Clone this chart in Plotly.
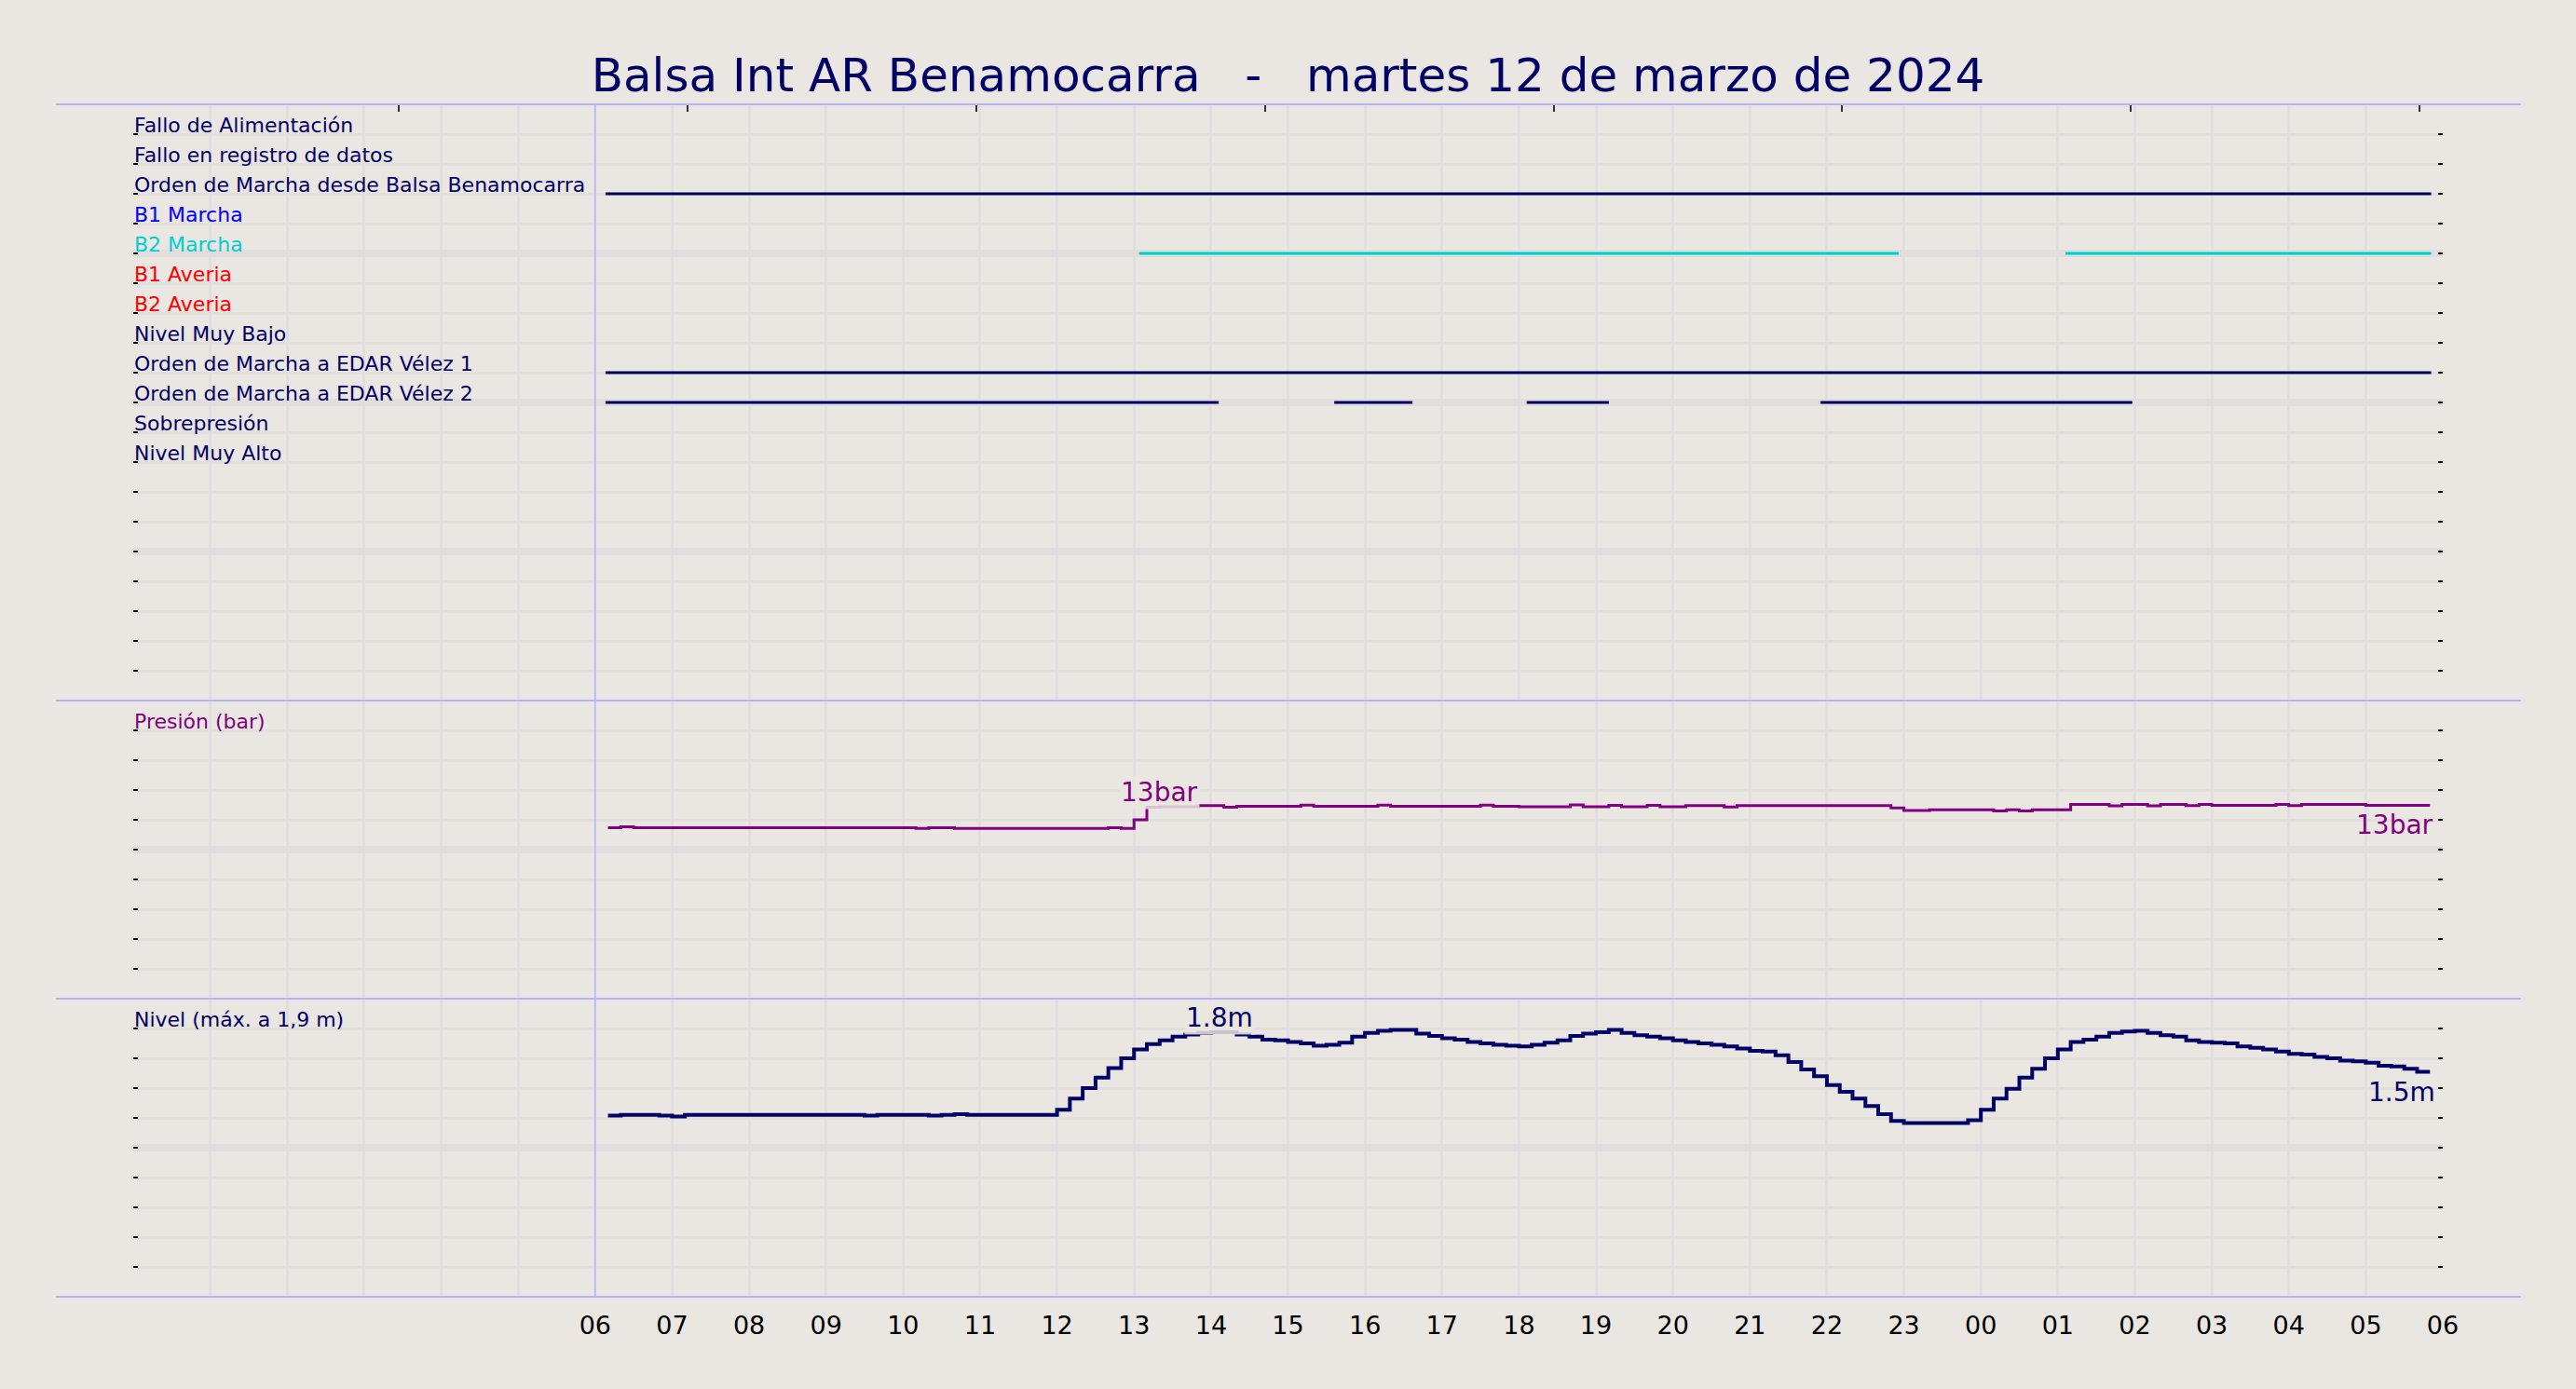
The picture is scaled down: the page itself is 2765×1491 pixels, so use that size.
# -*- coding: utf-8 -*-
import pandas as pd
import plotly.graph_objects as go
from plotly.subplots import make_subplots

# ---- data ------------------------------------------------------------------
X_START = "2024-03-12 00:00"
X_END = "2024-03-13 06:00"

SIGNAL_LABELS = [
    "Fallo de Alimentación",
    "Fallo en registro de datos",
    "Orden de Marcha desde Balsa Benamocarra",
    "B1 Marcha",
    "B2 Marcha",
    "B1 Averia",
    "B2 Averia",
    "Nivel Muy Bajo",
    "Orden de Marcha a EDAR Vélez 1",
    "Orden de Marcha a EDAR Vélez 2",
    "Sobrepresión",
    "Nivel Muy Alto",
]
SIGNAL_COLORS = [
    "#000066", "#000066", "#000066", "#0000ff", "#00ced1", "#ff0000",
    "#ff0000", "#000066", "#000066", "#000066", "#000066", "#000066",
]

# periodos activos (inicio, fin) de cada señal
SIGNAL_ON = {
    "Orden de Marcha desde Balsa Benamocarra": [
        ("2024-03-12 06:08", "2024-03-13 05:51")],
    "B2 Marcha": [
        ("2024-03-12 13:04", "2024-03-12 22:56"),
        ("2024-03-13 01:06", "2024-03-13 05:51")],
    "Orden de Marcha a EDAR Vélez 1": [
        ("2024-03-12 06:08", "2024-03-13 05:51")],
    "Orden de Marcha a EDAR Vélez 2": [
        ("2024-03-12 06:08", "2024-03-12 14:06"),
        ("2024-03-12 15:36", "2024-03-12 16:37"),
        ("2024-03-12 18:06", "2024-03-12 19:10"),
        ("2024-03-12 21:55", "2024-03-13 01:58")],
}

# registros cada 10 minutos, de 06:10 a 05:50
SAMPLE_TIMES = pd.date_range("2024-03-12 06:10", "2024-03-13 05:50", freq="10min")

PRESSURE = [
    11.47, 11.53, 11.47, 11.47, 11.47,                  # 06
    11.47, 11.47, 11.47, 11.47, 11.47, 11.47,           # 07
    11.47, 11.47, 11.47, 11.47, 11.47, 11.47,           # 08
    11.47, 11.47, 11.47, 11.47, 11.47, 11.47,           # 09
    11.47, 11.42, 11.47, 11.47, 11.42, 11.42,           # 10
    11.42, 11.42, 11.42, 11.42, 11.42, 11.42,           # 11
    11.42, 11.42, 11.42, 11.42, 11.47, 11.42,           # 12
    12.00, 12.85, 12.88, 12.88, 12.88, 12.95,           # 13
    12.95, 12.84, 12.91, 12.91, 12.91, 12.91,           # 14
    12.91, 12.99, 12.91, 12.91, 12.91, 12.91,           # 15
    12.91, 12.99, 12.91, 12.91, 12.91, 12.91,           # 16
    12.91, 12.91, 12.91, 12.99, 12.91, 12.91,           # 17
    12.88, 12.88, 12.88, 12.88, 13.00, 12.88,           # 18
    12.88, 12.97, 12.88, 12.88, 12.97, 12.88,           # 19
    12.88, 12.95, 12.95, 12.95, 12.86, 12.95,           # 20
    12.95, 12.95, 12.95, 12.95, 12.95, 12.95,           # 21
    12.95, 12.95, 12.95, 12.95, 12.95, 12.80,           # 22
    12.63, 12.63, 12.67, 12.67, 12.67, 12.67,           # 23
    12.67, 12.59, 12.67, 12.59, 12.67, 12.67,           # 00
    12.67, 13.03, 13.03, 13.03, 12.93, 13.03,           # 01
    13.03, 12.93, 13.03, 13.03, 12.95, 13.03,           # 02
    12.97, 12.97, 12.97, 12.97, 12.97, 13.03,           # 03
    12.95, 13.03, 13.03, 13.03, 13.03, 13.03,           # 04
    12.97, 12.97, 12.97, 12.97, 12.97, 12.97,           # 05
]

LEVEL = [
    1.215, 1.22, 1.22, 1.22, 1.215,                     # 06
    1.21, 1.22, 1.22, 1.22, 1.22, 1.22,                 # 07
    1.22, 1.22, 1.22, 1.22, 1.22, 1.22,                 # 08
    1.22, 1.22, 1.22, 1.215, 1.22, 1.22,                # 09
    1.22, 1.22, 1.215, 1.22, 1.225, 1.22,               # 10
    1.22, 1.22, 1.22, 1.22, 1.22, 1.22,                 # 11
    1.255, 1.33, 1.40, 1.47, 1.535, 1.60,               # 12
    1.66, 1.695, 1.72, 1.745, 1.76, 1.77,               # 13
    1.775, 1.775, 1.76, 1.745, 1.725, 1.72,             # 14
    1.71, 1.70, 1.685, 1.69, 1.705, 1.745,              # 15
    1.77, 1.785, 1.79, 1.79, 1.765, 1.75,               # 16
    1.735, 1.725, 1.71, 1.70, 1.69, 1.685,              # 17
    1.68, 1.69, 1.705, 1.72, 1.75, 1.765,               # 18
    1.775, 1.79, 1.77, 1.755, 1.745, 1.735,             # 19
    1.72, 1.71, 1.70, 1.69, 1.68, 1.665,                # 20
    1.65, 1.645, 1.62, 1.575, 1.525, 1.48,              # 21
    1.42, 1.375, 1.33, 1.28, 1.225, 1.18,               # 22
    1.165, 1.165, 1.165, 1.165, 1.165, 1.185,           # 23
    1.255, 1.33, 1.395, 1.47, 1.53, 1.60,               # 00
    1.66, 1.71, 1.725, 1.745, 1.77, 1.78,               # 01
    1.785, 1.77, 1.755, 1.745, 1.72, 1.71,              # 02
    1.705, 1.70, 1.68, 1.67, 1.66, 1.645,               # 03
    1.63, 1.625, 1.61, 1.60, 1.585, 1.58,               # 04
    1.57, 1.55, 1.545, 1.53, 1.51, 1.51,                # 05
]

HOUR_TICKS = pd.date_range("2024-03-12 06:00", "2024-03-13 06:00", freq="h")
HOUR_LABELS = ["06", "07", "08", "09", "10", "11", "12", "13", "14", "15",
               "16", "17", "18", "19", "20", "21", "22", "23", "00", "01",
               "02", "03", "04", "05", "06"]
TOP_TICKS = ["2024-03-12 03:27", "2024-03-12 07:12", "2024-03-12 10:57",
             "2024-03-12 14:42", "2024-03-12 18:27", "2024-03-12 22:12",
             "2024-03-13 01:57", "2024-03-13 05:42"]

# ---- estilo ----------------------------------------------------------------
BG = "#eae6e1"
GRID = "#e2dedd"
NAVY = "#000066"
PURPLE = "#800080"
LAVENDER = "#b4b4ff"
FONT = "DejaVu Sans"
LABEL_SIZE = 22

fig = make_subplots(rows=3, cols=1, shared_xaxes=True, vertical_spacing=0,
                    row_heights=[0.5, 0.25, 0.25])

for i, label in enumerate(SIGNAL_LABELS):
    periods = SIGNAL_ON.get(label, [])
    if not periods:
        continue
    xs, ys = [], []
    for start, end in periods:
        xs += [start, end, None]
        ys += [i + 1, i + 1, None]
    fig.add_trace(go.Scatter(x=xs, y=ys, mode="lines", name=label,
                             line=dict(color=SIGNAL_COLORS[i], width=3),
                             showlegend=False, hoverinfo="skip"), row=1, col=1)

fig.add_trace(go.Scatter(x=SAMPLE_TIMES, y=PRESSURE, mode="lines",
                         line=dict(color=PURPLE, width=3, shape="hv"),
                         showlegend=False), row=2, col=1)
fig.add_trace(go.Scatter(x=SAMPLE_TIMES, y=LEVEL, mode="lines",
                         line=dict(color=NAVY, width=4, shape="hv"),
                         showlegend=False), row=3, col=1)

hour_grid = dict(dtick=3600000, tick0=X_START, showgrid=True,
                 gridcolor=GRID, gridwidth=3, ticks="")
for r in (1, 2, 3):
    fig.update_xaxes(range=[X_START, X_END], showgrid=False, zeroline=False,
                     showline=False, minor=hour_grid, row=r, col=1)
fig.update_xaxes(side="top", tickmode="array", tickvals=TOP_TICKS,
                 ticks="inside", ticklen=8, tickwidth=1.5, tickcolor="#333333",
                 showticklabels=False, row=1, col=1)
fig.update_xaxes(ticks="", showticklabels=False, row=2, col=1)
fig.update_xaxes(tickmode="array", tickvals=HOUR_TICKS, ticktext=HOUR_LABELS,
                 ticks="outside", ticklen=7, tickcolor="rgba(0,0,0,0)",
                 showticklabels=True,
                 tickfont=dict(family=FONT, size=27, color="black"),
                 row=3, col=1)

y_common = dict(showticklabels=False, zeroline=False, showline=False,
                ticks="inside", ticklen=5, tickwidth=2, tickcolor="black",
                mirror="ticks", showgrid=True, gridcolor=GRID, gridwidth=8,
                tickmode="linear", tick0=0)
fig.update_yaxes(range=[20, 0], dtick=5,
                 minor=dict(dtick=1, tick0=0, showgrid=True, gridcolor=GRID,
                            gridwidth=3, ticks="inside", ticklen=5,
                            tickwidth=2, tickcolor="black"),
                 row=1, col=1, **y_common)
fig.update_yaxes(range=[0, 20], dtick=10,
                 minor=dict(dtick=2, tick0=0, showgrid=True, gridcolor=GRID,
                            gridwidth=3, ticks="inside", ticklen=5,
                            tickwidth=2, tickcolor="black"),
                 row=2, col=1, **y_common)
fig.update_yaxes(range=[0, 2], dtick=1,
                 minor=dict(dtick=0.2, tick0=0, showgrid=True, gridcolor=GRID,
                            gridwidth=3, ticks="inside", ticklen=5,
                            tickwidth=2, tickcolor="black"),
                 row=3, col=1, **y_common)

# etiquetas de las señales
for i, label in enumerate(SIGNAL_LABELS):
    fig.add_annotation(x=0, xref="paper", y=i + 1, yref="y", text=label,
                       xanchor="left", yanchor="middle", yshift=10,
                       showarrow=False, borderpad=0,
                       font=dict(family=FONT, size=LABEL_SIZE,
                                 color=SIGNAL_COLORS[i]))
fig.add_annotation(x=0, xref="paper", y=18, yref="y2", text="Presión (bar)",
                   xanchor="left", yanchor="middle", yshift=10, showarrow=False,
                   borderpad=0, font=dict(family=FONT, size=LABEL_SIZE,
                                          color=PURPLE))
fig.add_annotation(x=0, xref="paper", y=1.8, yref="y3",
                   text="Nivel (máx. a 1,9 m)", xanchor="left",
                   yanchor="middle", yshift=10, showarrow=False, borderpad=0,
                   font=dict(family=FONT, size=LABEL_SIZE, color=NAVY))

# valores destacados
i_p = list(SAMPLE_TIMES).index(pd.Timestamp("2024-03-12 13:10"))
i_l = list(SAMPLE_TIMES).index(pd.Timestamp("2024-03-12 14:00"))
fig.add_annotation(x=SAMPLE_TIMES[i_p], y=PRESSURE[i_p], xref="x2", yref="y2",
                   text="%dbar" % round(PRESSURE[i_p]), showarrow=False,
                   xanchor="center", yanchor="bottom", xshift=13, yshift=-3,
                   bgcolor="rgba(234,230,225,0.85)", borderpad=1,
                   font=dict(family=FONT, size=28, color=PURPLE))
fig.add_annotation(x=SAMPLE_TIMES[-1], y=PRESSURE[-1], xref="x2", yref="y2",
                   text="%dbar" % round(PRESSURE[-1]), showarrow=False,
                   xanchor="right", yanchor="top", xshift=6, yshift=-3,
                   font=dict(family=FONT, size=28, color=PURPLE))
fig.add_annotation(x=SAMPLE_TIMES[i_l], y=LEVEL[i_l], xref="x3", yref="y3",
                   text="%.1fm" % LEVEL[i_l], showarrow=False,
                   xanchor="center", yanchor="bottom", xshift=9, yshift=-3,
                   bgcolor="rgba(234,230,225,0.85)", borderpad=1,
                   font=dict(family=FONT, size=28, color=NAVY))
fig.add_annotation(x=SAMPLE_TIMES[-1], y=LEVEL[-1], xref="x3", yref="y3",
                   text="%.1fm" % LEVEL[-1], showarrow=False,
                   xanchor="right", yanchor="top", xshift=8, yshift=-4,
                   font=dict(family=FONT, size=28, color=NAVY))

# separadores y línea de las 06
for yy in (1, 0.5, 0.25, 0):
    fig.add_shape(type="line", xref="paper", yref="paper", x0=-0.0335,
                  x1=1.0339, y0=yy, y1=yy, line=dict(color=LAVENDER, width=2))
fig.add_shape(type="line", xref="x3", yref="paper", x0=HOUR_TICKS[0],
              x1=HOUR_TICKS[0], y0=0, y1=1, line=dict(color=LAVENDER, width=1.5))

title = "Balsa Int AR Benamocarra\u00a0\u00a0\u00a0-\u00a0\u00a0\u00a0martes 12 de marzo de 2024"
fig.update_layout(
    width=2765, height=1491,
    paper_bgcolor=BG, plot_bgcolor=BG,
    margin=dict(l=143, r=143, t=112, b=99),
    title=dict(text=title, x=0.5, xanchor="center", y=1 - 80 / 1491,
               yanchor="middle", font=dict(family=FONT, size=50, color=NAVY)),
    showlegend=False,
)

fig.write_html("out.html", config={"displayModeBar": False},
               post_script="document.body.style.margin='0';"
                           "document.body.style.background='%s';" % BG)
